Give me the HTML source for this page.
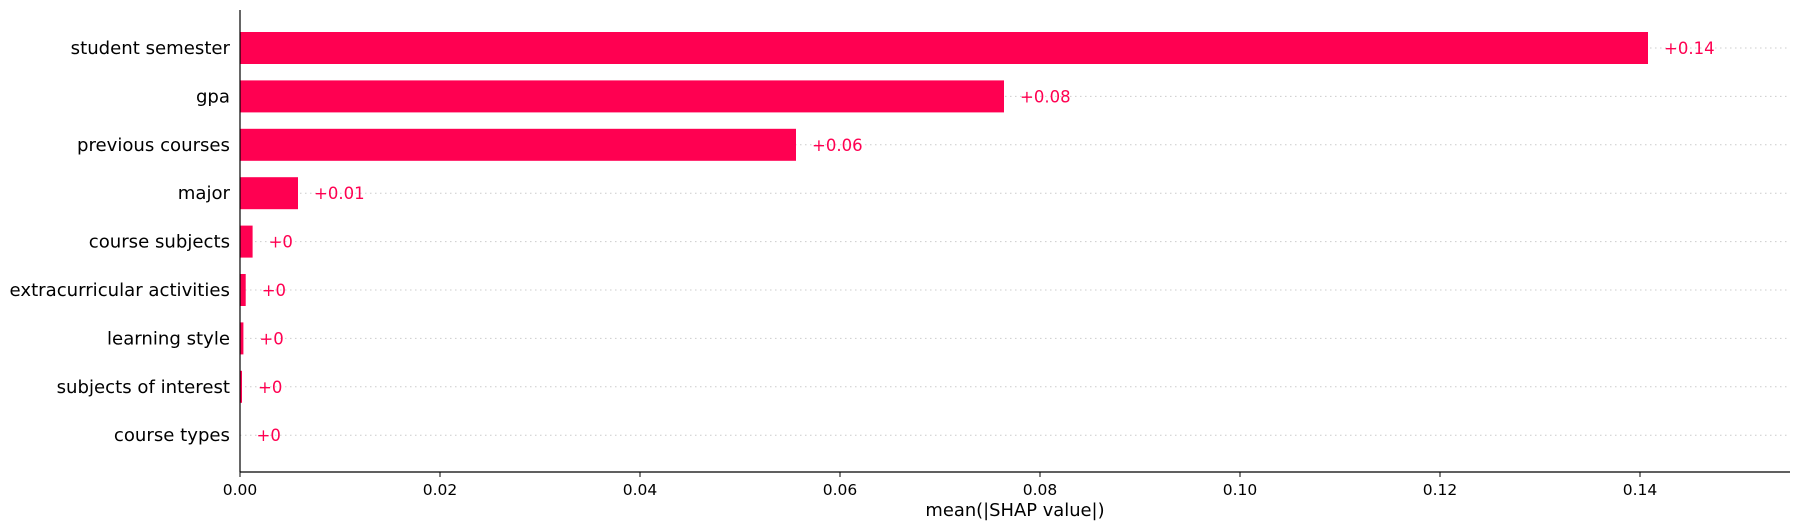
<!DOCTYPE html>
<html><head><meta charset="utf-8"><style>
html,body{margin:0;padding:0;background:#fff;}
svg{display:block;font-family:"DejaVu Sans","Liberation Sans",sans-serif;}
</style></head><body>
<svg id="chart" width="1799" height="530"></svg>
<script>
const features = ["student semester","gpa","previous courses","major","course subjects","extracurricular activities","learning style","subjects of interest","course types"];
const values = [0.1408,0.0764,0.0556,0.0058,0.00126,0.00057,0.00034,0.0002,0.00005];
const valueLabels = ["+0.14","+0.08","+0.06","+0.01","+0","+0","+0","+0","+0"];
const ticks = [0,0.02,0.04,0.06,0.08,0.10,0.12,0.14];
const tickLabels = ["0.00","0.02","0.04","0.06","0.08","0.10","0.12","0.14"];

const NS="http://www.w3.org/2000/svg";
const svg=document.getElementById('chart');
const X0=240, PXU=10000, XR=1790, YT=10, YB=472, ROW0=48, ROWSTEP=48.4, BARH=32;
const xs=v=>X0+v*PXU;
const ys=i=>ROW0+i*ROWSTEP;
function mk(tag,attrs,txt){const e=document.createElementNS(NS,tag);for(const k in attrs)e.setAttribute(k,attrs[k]);if(txt!==undefined)e.textContent=txt;svg.appendChild(e);return e;}

features.forEach((f,i)=>{
  const y=ys(i);
  const g=mk('line',{x1:X0,x2:XR,y1:y,y2:y,stroke:'#cccccc','stroke-width':1,'stroke-dasharray':'1.5,3.5'});
  
  
  const b=mk('rect',{x:X0,y:y-BARH/2,width:Math.max(values[i]*PXU,0.5),height:BARH,fill:'#ff0051'});
  
  
  const t=mk('text',{x:xs(values[i])+16,y:y+6,fill:'#ff0051','font-size':16.5},valueLabels[i]);
  
  
  const l=mk('text',{x:230,y:y+6,'text-anchor':'end',fill:'#000','font-size':18.1},f);
  
  
});
const ya=mk('line',{x1:X0,x2:X0,y1:YT,y2:YB,stroke:'#000','stroke-width':1.2});


const xa=mk('line',{x1:X0,x2:XR,y1:YB,y2:YB,stroke:'#000','stroke-width':1.2});


ticks.forEach((v,i)=>{
  const tk=mk('line',{x1:xs(v),x2:xs(v),y1:YB,y2:YB+5,stroke:'#000','stroke-width':1});
  
  
  const tl=mk('text',{x:xs(v),y:495,'text-anchor':'middle','font-size':15.5,fill:'#000'},tickLabels[i]);
  
  
});
const xt=mk('text',{x:(X0+XR)/2,y:516,'text-anchor':'middle','font-size':17.9,fill:'#000'},'mean(|SHAP value|)');


</script>
</body></html>
